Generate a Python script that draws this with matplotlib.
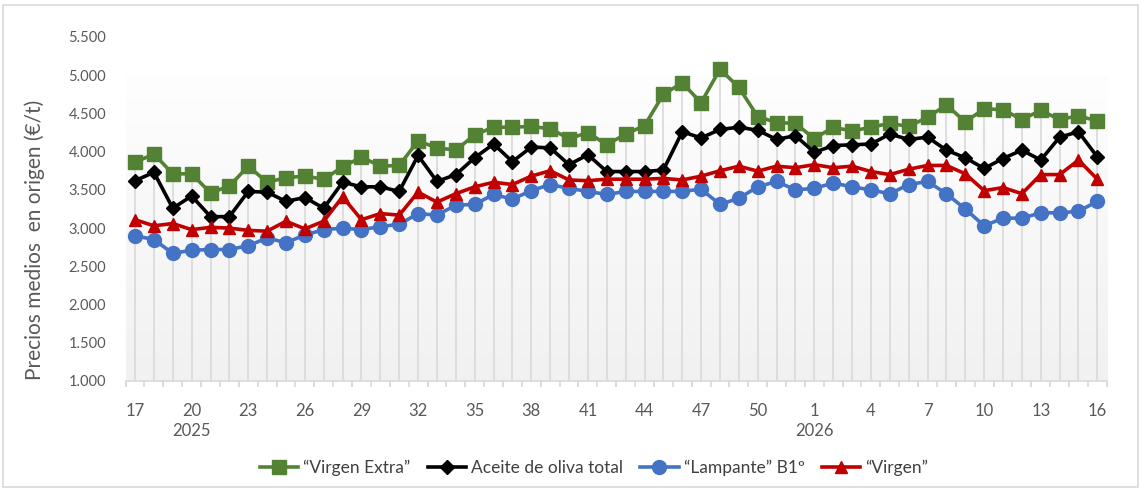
import numpy as np
import matplotlib
matplotlib.use("Agg")
import matplotlib.pyplot as plt
from matplotlib.colors import LinearSegmentedColormap
from matplotlib.patches import Rectangle

# Semanas: 17..52 de 2025 y 1..16 de 2026
weeks = list(range(17, 53)) + list(range(1, 17))

virgen_extra = [3860, 3970, 3710, 3710, 3460, 3550, 3810, 3600, 3660, 3680,
                3640, 3800, 3930, 3810, 3820, 4140, 4050, 4020, 4220, 4320,
                4320, 4330, 4300, 4170, 4250, 4090, 4230, 4340, 4750, 4900,
                4640, 5080, 4840, 4460, 4380, 4370, 4170, 4320, 4270, 4320,
                4370, 4330, 4450, 4610, 4390, 4560, 4550, 4420, 4540, 4420,
                4470, 4400]
total = [3620, 3730, 3260, 3420, 3150, 3150, 3480, 3470, 3350, 3400,
         3260, 3600, 3540, 3540, 3480, 3950, 3610, 3700, 3920, 4100,
         3870, 4060, 4050, 3830, 3960, 3740, 3740, 3740, 3760, 4260,
         4180, 4290, 4320, 4280, 4160, 4210, 3990, 4080, 4090, 4100,
         4230, 4160, 4190, 4020, 3920, 3780, 3910, 4020, 3890, 4190,
         4260, 3930]
lampante = [2900, 2850, 2670, 2710, 2720, 2720, 2770, 2870, 2810, 2910,
            2980, 3000, 2980, 3020, 3050, 3190, 3170, 3300, 3310, 3440,
            3380, 3490, 3570, 3520, 3480, 3440, 3480, 3480, 3480, 3480,
            3510, 3310, 3390, 3540, 3610, 3500, 3520, 3590, 3540, 3500,
            3450, 3570, 3610, 3450, 3250, 3030, 3130, 3130, 3200, 3200,
            3220, 3350]
virgen = [3110, 3030, 3060, 2980, 3010, 3000, 2970, 2960, 3090, 2990,
          3090, 3410, 3110, 3190, 3170, 3470, 3340, 3450, 3540, 3600,
          3570, 3680, 3750, 3630, 3620, 3640, 3640, 3640, 3650, 3630,
          3680, 3750, 3810, 3745, 3810, 3790, 3830, 3790, 3810, 3740,
          3700, 3770, 3820, 3820, 3710, 3490, 3530, 3450, 3700, 3700,
          3890, 3640]

years = {"2025": 3, "2026": 36}
y_ticks = [1000, 1500, 2000, 2500, 3000, 3500, 4000, 4500, 5000, 5500]

plt.rcParams['font.family'] = ['Lato', 'DejaVu Sans']
grey_txt = '#595959'
grid_c = '#d9d9d9'

fig = plt.figure(figsize=(11.41, 4.90), dpi=100)
ax = fig.add_axes([125.6 / 1141, 1 - 381 / 490, (1106.8 - 125.6) / 1141, (381 - 37) / 490])

x = np.arange(len(weeks))

# fondo degradado del area de trazado
grad = np.linspace(0, 1, 256).reshape(-1, 1)
cmap = LinearSegmentedColormap.from_list('g', ['#fefefe', '#f1f1f1'])
ax.imshow(grad, extent=[-0.5, len(weeks) - 0.5, 1000, 5000], aspect='auto',
          cmap=cmap, origin='upper', zorder=0)

# lineas de caida
tops = np.max([virgen_extra, total, lampante, virgen], axis=0)
ax.vlines(x, 1000, tops, color=grid_c, lw=1.2, zorder=1)

ax.plot(x, virgen_extra, color='#548235', lw=2.6, marker='s', ms=9.5,
        label='\u201cVirgen Extra\u201d', zorder=3)
ax.plot(x, total, color='#000000', lw=2.6, marker='D', ms=7.5,
        label='Aceite de oliva total', zorder=4)
ax.plot(x, lampante, color='#4472C4', lw=2.6, marker='o', ms=10,
        label='\u201cLampante\u201d B1\u00ba', zorder=5)
ax.plot(x, virgen, color='#C00000', lw=2.6, marker='^', ms=9,
        label='\u201cVirgen\u201d', zorder=6)

ax.set_xlim(-0.5, len(weeks) - 0.5)
ax.set_ylim(1000, 5500)

ax.set_yticks(y_ticks)
ax.set_yticklabels([f"{v:,}".replace(',', '.') for v in y_ticks])
ax.tick_params(axis='y', length=0, pad=14, labelsize=10.5, labelcolor=grey_txt)

# ejes x: etiquetas cada 3 semanas, marcas entre categorias
ax.set_xticks(x[::3])
ax.set_xticklabels([str(weeks[i]) for i in x[::3]])
ax.tick_params(axis='x', length=0, pad=16, labelsize=12, labelcolor=grey_txt)
bounds = np.arange(-0.5, len(weeks), 1.0)
ax.set_xticks(bounds, minor=True)
ax.tick_params(axis='x', which='minor', length=4, color=grid_c, width=1.2)
ax.vlines(bounds[::2], 1000, 1000 - 4500 * 6 / 344, color=grid_c, lw=1.2,
          clip_on=False, zorder=1)

for lab, pos in years.items():
    ax.text(pos, -0.145, lab, transform=ax.get_xaxis_transform(),
            ha='center', va='center', fontsize=12, color=grey_txt)

for s in ['top', 'right', 'left']:
    ax.spines[s].set_visible(False)
ax.spines['bottom'].set_color(grid_c)
ax.spines['bottom'].set_linewidth(1.2)

fig.text(35 / 1141, 1 - 240 / 490, 'Precios medios  en origen (\u20ac/t)',
         rotation=90, ha='center', va='center', fontsize=15, color=grey_txt)

fig.legend(loc='center', bbox_to_anchor=(594 / 1141, 1 - 468 / 490), ncol=4,
           frameon=False, fontsize=12.5, handlelength=2.2, columnspacing=1.0,
           handletextpad=0.3, labelcolor='#404040')

fig.patches.append(Rectangle((3 / 1141, 3 / 490), 1 - 6 / 1141, 1 - 8 / 490,
                             transform=fig.transFigure, fill=False,
                             edgecolor=grid_c, lw=1.2))

fig.savefig('out.png', dpi=100)
